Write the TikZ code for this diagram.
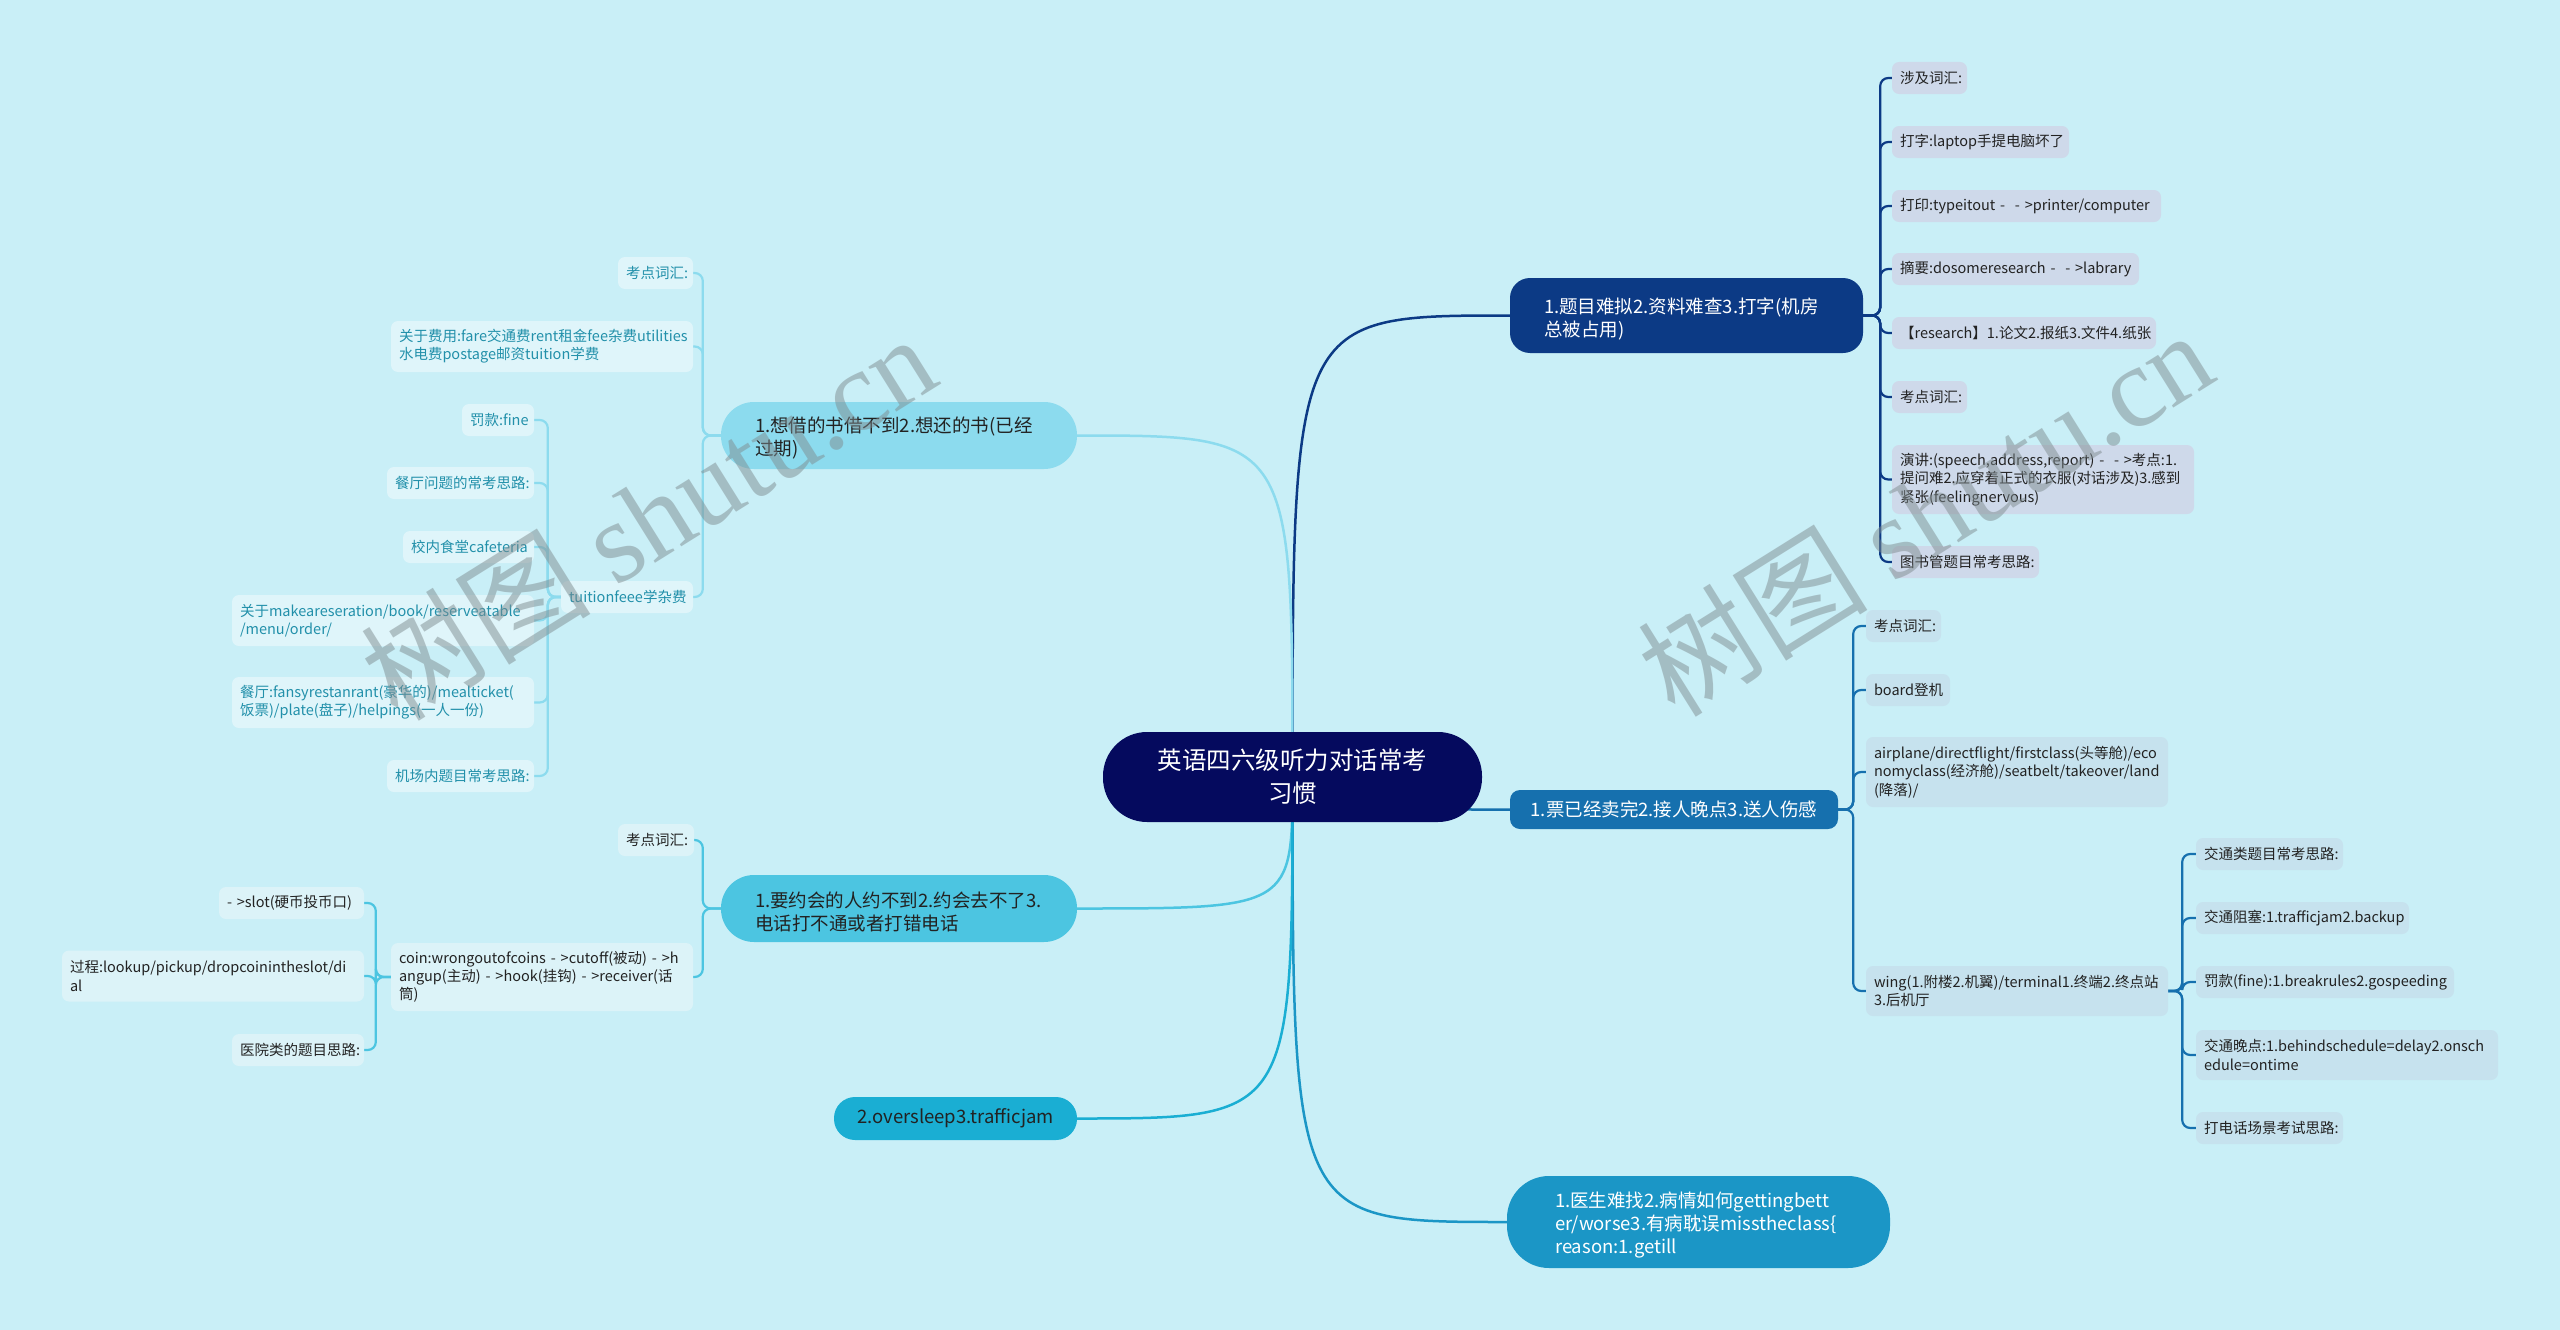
\documentclass[tikz,border=0pt]{standalone}
\usepackage{fontspec}
\setmainfont{Noto Sans CJK SC}
\newfontfamily\wmserif{Liberation Serif}
\usetikzlibrary{calc}
\definecolor{bgc}{HTML}{C9EFF7}
\definecolor{cnavy}{HTML}{050A5E}
\definecolor{cone}{HTML}{0C3A85}
\definecolor{ctwo}{HTML}{1670AE}
\definecolor{cthree}{HTML}{1B96C6}
\definecolor{cA}{HTML}{8CDBEE}
\definecolor{cB}{HTML}{4CC5E1}
\definecolor{cC}{HTML}{1AAED3}
\definecolor{lfone}{HTML}{CED9EA}
\definecolor{lftwo}{HTML}{C6E2EE}
\definecolor{lfA}{HTML}{DFF5FA}
\definecolor{lfB}{HTML}{DCF3F8}
\definecolor{darktxt}{HTML}{222222}
\definecolor{tealtxt}{HTML}{2290AA}
\definecolor{wmgray}{HTML}{7F8C90}
\pgfdeclarelayer{back}
\pgfdeclarelayer{conn}
\pgfsetlayers{back,conn,main}
\newcommand\brtext[2]{\raisebox{-3pt}[\height][\depth]{\parbox[t]{#1}{\raggedright #2}}}
\tikzset{
  box/.style n args={3}{minimum width=#1pt, text width=#2pt, minimum height=#3pt},
  boxb/.style 2 args={minimum width=#1pt, minimum height=#2pt},
  cnode/.style={fill=cnavy, text=white, rounded corners=44pt, align=center, inner xsep=0pt, inner ysep=0pt, font=\fontsize{24.5}{33}\selectfont},
  brw/.style={text=white, inner ysep=0pt, font=\fontsize{18.5}{23}\selectfont},
  brd/.style={text=darktxt, inner ysep=0pt, font=\fontsize{18.5}{23}\selectfont},
  leaf/.style={rounded corners=7pt, inner xsep=8pt, inner ysep=0pt, align=left, font=\fontsize{14.5}{18.3}\selectfont},
  leafone/.style={leaf, fill=lfone, text=darktxt},
  leaftwo/.style={leaf, fill=lftwo, text=darktxt},
  leafA/.style={leaf, fill=lfA, text=tealtxt},
  leafB/.style={leaf, fill=lfB, text=darktxt},
  mainln/.style={line width=2.5pt},
  lk/.style={line width=2.2pt, rounded corners=8pt},
  wm/.style={text=wmgray, opacity=0.5, font=\fontsize{115}{115}\selectfont, inner sep=0pt}
}
\begin{document}
\begin{tikzpicture}[x=1pt,y=-1pt]
\begin{pgfonlayer}{back}
\fill[bgc] (0,0) rectangle (2560,1330);
\end{pgfonlayer}
\useasboundingbox (0,0) rectangle (2560,1330);

% central node
\node[cnode, minimum width=379pt, minimum height=90pt] (c) at (1292.5,777) {英语四六级听力对话常考\\习惯};

% right branches
\node[brw, fill=cone, rounded corners=20pt, inner xsep=34pt, boxb={353}{75}] (b1) at (1686.5,315.5) {\brtext{285pt}{1.题目难拟2.资料难查3.打字(机房\\总被占用)}};
\node[brw, fill=ctwo, rounded corners=10pt, inner xsep=16pt, align=center, box={328}{296}{39}] (b2) at (1674,809.5) {1.票已经卖完2.接人晚点3.送人伤感};
\node[brw, fill=cthree, rounded corners=42pt, inner xsep=48pt, boxb={383}{92}] (b3) at (1698.5,1222) {\brtext{287pt}{1.医生难找2.病情如何gettingbett\\er/worse3.有病耽误misstheclass\{\\reason:1.getill}};

% left branches
\node[brd, fill=cA, rounded corners=33pt, inner xsep=34pt, boxb={356}{67}] (A) at (899,435.5) {\brtext{288pt}{1.想借的书借不到2.想还的书(已经\\过期)}};
\node[brd, fill=cB, rounded corners=33pt, inner xsep=34pt, boxb={356}{67}] (B) at (899,908.5) {\brtext{288pt}{1.要约会的人约不到2.约会去不了3.\\电话打不通或者打错电话}};
\node[brd, fill=cC, rounded corners=21pt, inner xsep=18pt, align=center, box={243}{207}{43}] (C) at (955.5,1118.5) {2.oversleep3.trafficjam};

% leaves of b1
\node[leafone, box={75}{59}{32}] (L1a) at (1929.5,78) {涉及词汇:};
\node[leafone, box={177}{161}{32}] (L1b) at (1980.5,142) {打字:laptop手提电脑坏了};
\node[leafone, box={269}{253}{32}] (L1c) at (2026.5,206) {\mbox{打印:typeitout -~~-~>printer/computer}};
\node[leafone, box={247}{231}{32}] (L1d) at (2015.5,269) {\mbox{摘要:dosomeresearch -~~-~>labrary}};
\node[leafone, box={264}{248}{32}] (L1e) at (2024,333) {【research】1.论文2.报纸3.文件4.纸张};
\node[leafone, box={75}{59}{32}] (L1f) at (1929.5,397) {考点词汇:};
\node[leafone, box={302}{286}{69}] (L1g) at (2043,479.5) {演讲:(speech,address,report) -~~-~>考点:1.\\提问难2.应穿着正式的衣服(对话涉及)3.感到\\紧张(feelingnervous)};
\node[leafone, box={147}{131}{32}] (L1h) at (1965.5,562) {图书管题目常考思路:};

% leaves of b2
\node[leaftwo, box={75}{59}{32}] (L2a) at (1903.5,626) {考点词汇:};
\node[leaftwo, box={84}{68}{32}] (L2b) at (1908,690) {board登机};
\node[leaftwo, box={302}{286}{70}] (L2c) at (2017,772) {airplane/directflight/firstclass(头等舱)/eco\\nomyclass(经济舱)/seatbelt/takeover/land\\(降落)/};
\node[leaftwo, box={302}{286}{50}] (L2d) at (2017,991) {wing(1.附楼2.机翼)/terminal1.终端2.终点站\\3.后机厅};

% leaves of wing
\node[leaftwo, box={147}{131}{32}] (W1) at (2269.5,854) {交通类题目常考思路:};
\node[leaftwo, box={213}{197}{32}] (W2) at (2302.5,918) {交通阻塞:1.trafficjam2.backup};
\node[leaftwo, box={258}{242}{32}] (W3) at (2325,982) {罚款(fine):1.breakrules2.gospeeding};
\node[leaftwo, box={302}{286}{50}] (W4) at (2347,1055) {交通晚点:1.behindschedule=delay2.onsch\\edule=ontime};
\node[leaftwo, box={147}{131}{32}] (W5) at (2269.5,1128) {打电话场景考试思路:};

% leaves of A
\node[leafA, box={75}{59}{32}] (A1) at (655.5,273) {考点词汇:};
\node[leafA, box={302}{286}{51}] (A2) at (542,346.5) {关于费用:fare交通费rent租金fee杂费utilities\\水电费postage邮资tuition学费};
\node[leafA, box={132}{116}{32}] (A3) at (627,597) {tuitionfeee学杂费};
\node[leafA, box={72}{56}{32}] (T1) at (498,420) {罚款:fine};
\node[leafA, box={147}{131}{32}] (T2) at (460.5,483) {餐厅问题的常考思路:};
\node[leafA, box={131}{115}{32}] (T3) at (468.5,547) {校内食堂cafeteria};
\node[leafA, box={302}{286}{51}] (T4) at (383,620.5) {关于makeareseration/book/reserveatable\\/menu/order/};
\node[leafA, box={302}{286}{51}] (T5) at (383,702.5) {餐厅:fansyrestanrant(豪华的)/mealticket(\\饭票)/plate(盘子)/helpings(一人一份)};
\node[leafA, box={147}{131}{32}] (T6) at (460.5,776) {机场内题目常考思路:};

% leaves of B
\node[leafB, box={76}{60}{32}] (B1) at (656,840) {考点词汇:};
\node[leafB, box={302}{286}{68}] (B2) at (542,977) {coin:wrongoutofcoins - >cutoff(被动) - >h\\angup(主动) - >hook(挂钩) - >receiver(话\\筒)};
\node[leafB, box={145}{129}{32}] (K1) at (291.5,903) {-~>slot(硬币投币口)};
\node[leafB, box={302}{286}{51}] (K2) at (213,976) {过程:lookup/pickup/dropcoinintheslot/di\\al};
\node[leafB, box={132}{116}{32}] (K3) at (298,1050) {医院类的题目思路:};

\begin{pgfonlayer}{conn}
% main connectors
\draw[mainln, cone] (c.center) .. controls (c.center |- b1.west) and (c.center |- b1.west) .. (b1.west);
\draw[mainln, ctwo] (c.center) .. controls (c.center |- b2.west) and (c.center |- b2.west) .. (b2.west);
\draw[mainln, cthree] (c.center) .. controls (c.center |- b3.west) and (c.center |- b3.west) .. (b3.west);
\draw[mainln, cA] (c.center) .. controls (c.center |- A.east) and (c.center |- A.east) .. (A.east);
\draw[mainln, cB] (c.center) .. controls (c.center |- B.east) and (c.center |- B.east) .. (B.east);
\draw[mainln, cC] (c.center) .. controls (c.center |- C.east) and (c.center |- C.east) .. (C.east);
% leaf connectors
\foreach \n in {L1a,L1b,L1c,L1d,L1e,L1f,L1g,L1h}
  \draw[lk, cone] (b1.east) -- ++(17,0) |- (\n.west);
\foreach \n in {L2a,L2b,L2c,L2d}
  \draw[lk, ctwo] (b2.east) -- ++(15,0) |- (\n.west);
\foreach \n in {W1,W2,W3,W4,W5}
  \draw[lk, ctwo] (L2d.east) -- ++(14,0) |- (\n.west);
\foreach \n in {A1,A2,A3}
  \draw[lk, cA] (A.west) -- ++(-18,0) |- (\n.east);
\foreach \n in {T1,T2,T3,T4,T5,T6}
  \draw[lk, cA] (A3.west) -- ++(-13,0) |- (\n.east);
\foreach \n in {B1,B2}
  \draw[lk, cB] (B.west) -- ++(-18,0) |- (\n.east);
\foreach \n in {K1,K2,K3}
  \draw[lk, cB] (B2.west) -- ++(-15,0) |- (\n.east);
\end{pgfonlayer}

% watermarks
\node[wm, rotate=32] (wmA) at (648,516) {树图 {\wmserif shutu.cn}};
\node[wm, rotate=32] (wmB) at (1925,512) {树图 {\wmserif shutu.cn}};
\end{tikzpicture}
\end{document}
